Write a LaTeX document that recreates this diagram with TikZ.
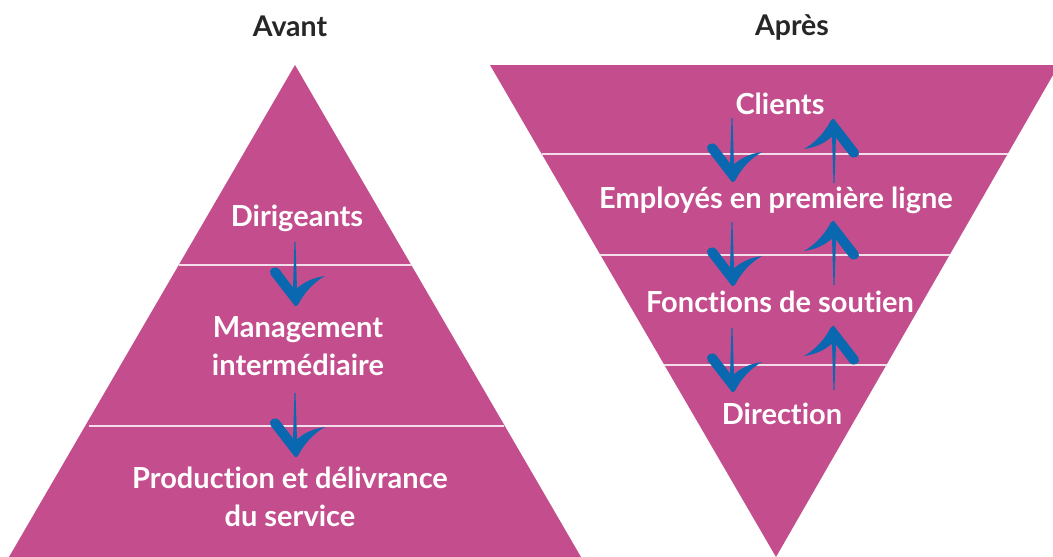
\documentclass[tikz,border=0pt]{standalone}
\usepackage{fontspec}
\setmainfont[Ligatures=NoCommon]{Lato}
\definecolor{pyr}{HTML}{C34D8D}
\definecolor{arr}{HTML}{0A68B0}
\definecolor{sep}{HTML}{F3DDEA}
\tikzset{
  x=1pt,y=-1pt,
  lbl/.style={text=white,font=\fontsize{29}{37.5}\selectfont\bfseries,align=center,inner sep=0pt,anchor=center},
  ttl/.style={text=black!85,font=\fontsize{28.5}{32}\selectfont\bfseries,inner sep=0pt,anchor=center},
  tier/.style={fill=pyr,draw=none},
  divider/.style={draw=sep,line width=1.6pt},
  bluefill/.style={fill=arr,draw=none},
  pics/flowarrow/.style={code={
    % thin shaft
    \fill[bluefill] (-2.2,-10) -- (-0.5,-63) -- (0.5,-63) -- (2.2,-10) -- cycle;
    % thick left limb with round end, tapering right limb
    \fill[bluefill] (0,1)
      -- (-24.3,-30.4)
      .. controls (-27.5,-35.5) and (-20,-40.5) .. (-15.7,-35.6)
      -- (0,-15)
      .. controls (8,-22) and (16,-27) .. (30,-29)
      .. controls (19,-23) and (9,-12) .. (3.5,-1)
      .. controls (2,1) and (1,1.5) .. (0,1) -- cycle;
  }}
}
\begin{document}
\begin{tikzpicture}
\useasboundingbox (0,0) rectangle (1053,557);
\fill[white] (0,0) rectangle (1053,557);
\fill[tier] (295,65) -- (581,557) -- (9,557) -- cycle;
\fill[tier] (490,65) -- (1053,65) -- (1053,75) -- (776,557) -- cycle;
\draw[divider] (179,265) -- (412,265);
\draw[divider] (89,426) -- (504,426);
\draw[divider] (542,154) -- (1008,154);
\draw[divider] (600,255) -- (950,255);
\draw[divider] (664,365) -- (887,365);
\pic at (295,305) {flowarrow};
\pic at (295,456) {flowarrow};
\pic at (732,181) {flowarrow};
\pic at (732,285) {flowarrow};
\pic at (732,391) {flowarrow};
\pic[rotate=180] at (834,120) {flowarrow};
\pic[rotate=180] at (834,222) {flowarrow};
\pic[rotate=180] at (834,327) {flowarrow};
\node[ttl] (avant) at (290,26) {Avant};
\node[ttl] (apres) at (792,27) {Après};
\node[lbl] (dir) at (297,218) {Dirigeants};
\node[lbl] (mgmt) at (298,346) {Management\\intermédiaire};
\node[lbl] (prod) at (290,497) {Production et délivrance\\du service};
\node[lbl] (cli) at (780,104) {Clients};
\node[lbl] (emp) at (776,200) {Employés en première ligne};
\node[lbl] (fonc) at (780,302) {Fonctions de soutien};
\node[lbl] (direc) at (782,414) {Direction};
\end{tikzpicture}
\end{document}
